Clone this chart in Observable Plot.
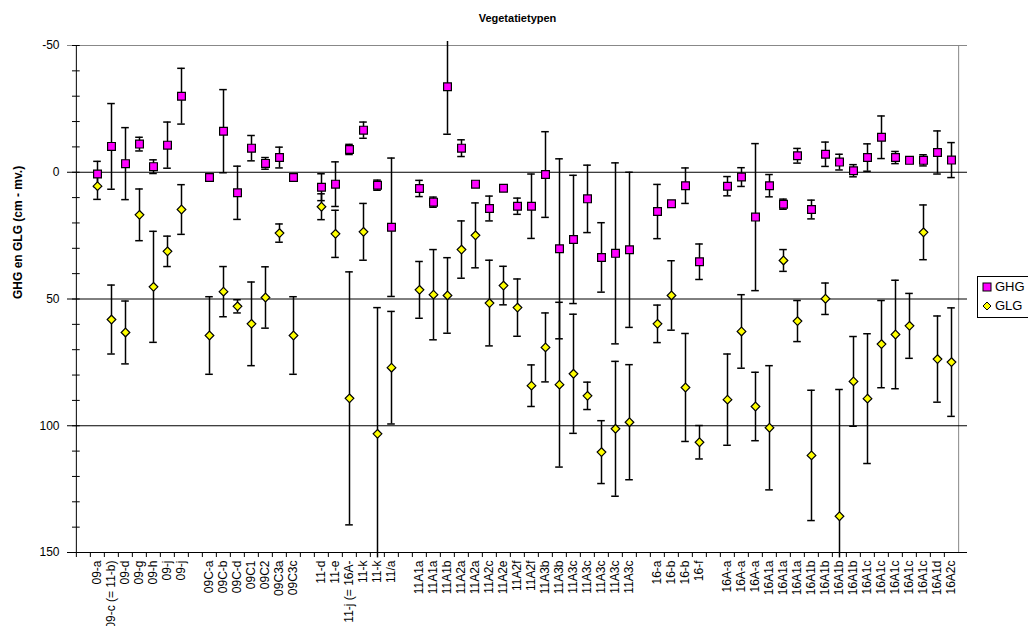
<!DOCTYPE html>
<html>
<head>
<meta charset="utf-8">
<script src="https://cdn.jsdelivr.net/npm/d3@7"></script>
<script src="https://cdn.jsdelivr.net/npm/@observablehq/plot@0.6"></script>
<style>
  html, body { margin: 0; padding: 0; background: #fff; overflow: hidden; }
  #wrap { position: relative; width: 1028px; height: 626px; font-family: "Liberation Sans", Arial, sans-serif; }
  #legend { position: absolute; left: 977px; top: 276px; width: 70px; height: 40px; border: 1px solid #000; background: #fff; font-size: 13px; }
  #legend .row { position: absolute; left: 4px; display: flex; align-items: center; gap: 3px; }
</style>
</head>
<body>
<div id="wrap">
  <div id="chart"></div>
  <div id="legend">
    <div class="row" style="top:2px"><svg width="10" height="10"><rect x="1" y="1" width="8" height="8" fill="#FF00FF" stroke="#000"/></svg><span>GHG</span></div>
    <div class="row" style="top:21px"><svg width="10" height="10"><path d="M5,1L9,5L5,9L1,5Z" fill="#FFFF00" stroke="#000"/></svg><span>GLG</span></div>
  </div>
</div>
<script>
// Vegetation types (category order, blanks separate the groups)
const labels = [
  "", "09-a", "09-c (= 11-b)", "09-d", "09-g", "09-h", "09-j", "09-j",
  "", "09C-a", "09C-b", "09C-d", "09C1", "09C2", "09C3a", "09C3c",
  "", "11-d", "11-e", "11-j (= 16A-", "11-k", "11-k", "11/a",
  "", "11A1a", "11A1a", "11A1b", "11A2a", "11A2a", "11A2c", "11A2e", "11A2f", "11A2f",
  "11A3b", "11A3b", "11A3c", "11A3c", "11A3c", "11A3c", "11A3c",
  "", "16-a", "16-b", "16-b", "16-f",
  "", "16A-a", "16A-a", "16A-a", "16A1a", "16A1a", "16A1a", "16A1b", "16A1b", "16A1b", "16A1b",
  "16A1c", "16A1c", "16A1c", "16A1c", "16A1c", "16A1d", "16A2c"
];

// GHG: mean highest groundwater level (cm below surface) and its spread
const ghg = [
  null, 0.7, -10.2, -3.4, -11.1, -2.2, -10.7, -30.0,
  null, 2.1, -16.2, 8.1, -9.5, -3.5, -5.8, 2.1,
  null, 5.9, 4.7, -9.0, -16.6, 5.1, 21.7,
  null, 6.4, 11.8, -33.7, -9.5, 4.7, 14.3, 6.3, 13.4, 13.4,
  0.9, 30.2, 26.5, 10.5, 33.6, 32.0, 30.6,
  null, 15.5, 12.4, 5.3, 35.3,
  null, 5.5, 1.9, 17.7, 5.3, 12.6, -6.5, 14.7, -7.1, -4.0, -0.6,
  -5.8, -13.8, -5.8, -4.7, -4.7, -7.8, -4.8
];
const ghgSd = [
  null, 5.0, 16.9, 14.2, 2.7, 2.7, 9.1, 11.0,
  null, 0, 16.4, 10.5, 5.0, 2.3, 4.1, 0,
  null, 5.3, 8.8, 2.0, 3.2, 2.0, 27.3,
  null, 3.2, 2.0, 18.7, 3.3, 0, 4.9, 0, 3.2, 12.7,
  16.9, 35.5, 25.3, 13.3, 13.7, 35.7, 30.6,
  null, 10.7, 0, 7.0, 7.0,
  null, 3.8, 3.7, 29.0, 4.4, 2.0, 2.9, 3.7, 4.8, 3.1, 2.4,
  5.4, 8.4, 2.4, 0, 2.2, 8.5, 6.9
];

// GLG: mean lowest groundwater level (cm below surface) and its spread
const glg = [
  null, 5.5, 58.1, 63.2, 16.8, 45.2, 31.2, 14.7,
  null, 64.4, 47.1, 52.9, 59.8, 49.4, 24.0, 64.4,
  null, 13.6, 24.3, 89.2, 23.5, 103.2, 77.1,
  null, 46.4, 48.3, 48.6, 30.5, 24.9, 51.6, 44.7, 53.4, 84.2,
  69.1, 83.8, 79.5, 88.2, 110.4, 101.2, 98.6,
  null, 59.8, 48.6, 84.9, 106.5,
  null, 89.7, 62.8, 92.4, 100.8, 34.8, 58.7, 111.7, 49.9, 135.7, 82.5,
  89.3, 67.8, 64.0, 60.6, 23.7, 73.7, 74.9
];
const glgSd = [
  null, 5.2, 13.6, 12.4, 10.2, 21.9, 6.0, 9.8,
  null, 15.3, 9.9, 2.6, 16.5, 12.1, 3.6, 15.3,
  null, 5.1, 9.3, 49.9, 11.2, 49.8, 22.2,
  null, 11.2, 17.8, 14.9, 11.3, 12.8, 16.9, 7.6, 11.3, 8.2,
  13.6, 32.5, 23.5, 5.4, 12.4, 26.6, 22.7,
  null, 7.4, 13.7, 21.3, 6.6,
  null, 18.0, 14.5, 13.5, 24.5, 4.3, 8.1, 25.7, 6.2, 50.0, 17.7,
  25.6, 17.2, 21.4, 12.8, 10.8, 17.0, 21.4
];

const yMajor = [-50, 0, 50, 100, 150];
const yMinor = d3.range(-50, 151, 10);
const gridLines = [0, 50, 100];

const n = labels.length;
const idx = d3.range(n);
const W = 1028, H = 626, mL = 67, mR = 61, mT = 45, mB = 74;
const bw = (W - mL - mR) / n;
const unitsPerPx = 200 / (H - mT - mB);

// error bars are cut off just past the plot area, like the axis ticks
const CUT_LO = -50 - 4 * unitsPerPx, CUT_HI = 150 + 5.4 * unitsPerPx;

function series(values, sds) {
  return idx.filter(i => values[i] != null).map(i => {
    const v = values[i], sd = sds[i] || 0;
    const a = v - sd, b = v + sd;
    return {i, v, sd, lo: Math.max(a, CUT_LO), hi: Math.min(b, CUT_HI), capLo: a >= CUT_LO, capHi: b <= CUT_HI};
  });
}
const ghgRows = series(ghg, ghgSd);
const glgRows = series(glg, glgSd);
const bars = [...ghgRows, ...glgRows].filter(d => d.sd > 0);
const caps = bars.flatMap(d => [
  ...(d.capLo ? [{i: d.i, y: d.lo}] : []),
  ...(d.capHi ? [{i: d.i, y: d.hi}] : [])
]);

const chart = Plot.plot({
  width: W, height: H,
  marginLeft: mL, marginRight: mR, marginTop: mT, marginBottom: mB,
  x: {type: "band", domain: idx, padding: 0, axis: null},
  y: {domain: [-50, 150], reverse: true, axis: null},
  style: {fontFamily: "'Liberation Sans', Arial, sans-serif", background: "white", color: "black"},
  marks: [
    // plot area border and gridlines
    Plot.ruleY([-50], {stroke: "#888", strokeWidth: 1}),
    Plot.ruleX([n - 1], {x: d => d, dx: bw / 2, stroke: "#888", strokeWidth: 1}),
    Plot.ruleY(gridLines, {stroke: "black", strokeWidth: 1}),
    Plot.ruleY([150], {stroke: "black", strokeWidth: 1}),
    Plot.ruleX([0], {x: d => d, dx: -bw / 2, stroke: "black", strokeWidth: 1}),
    // y axis: cross ticks every 10, labels every 50
    Plot.ruleY(yMinor, {y: d => d, x1: 0, x2: 0, dx: -4, insetRight: bw - 8, stroke: "black"}),
    Plot.text(yMajor, {y: d => d, text: d => String(d), frameAnchor: "left", dx: -8, textAnchor: "end", lineAnchor: "middle", fontSize: 12}),
    // x axis: ticks between categories, rotated labels
    Plot.ruleX(idx, {x: d => d, dx: -bw / 2, y1: 150, y2: 150 + 5 * unitsPerPx, stroke: "black"}),
    Plot.text(idx, {x: d => d, text: i => labels[i], frameAnchor: "bottom", dy: 8, rotate: -90, textAnchor: "end", lineAnchor: "middle", fontSize: 12}),
    // titles
    Plot.text(["Vegetatietypen"], {frameAnchor: "top", dy: -27, lineAnchor: "middle", fontWeight: "bold", fontSize: 11}),
    Plot.text(["GHG en GLG (cm - mv.)"], {frameAnchor: "left", dx: -49, rotate: -90, lineAnchor: "middle", fontWeight: "bold", fontSize: 12}),
    // error bars
    Plot.ruleX(bars, {x: "i", y1: "lo", y2: "hi", stroke: "black", strokeWidth: 1.5}),
    Plot.tickY(caps, {x: "i", y: "y", insetLeft: 3.2, insetRight: 3.2, stroke: "black", strokeWidth: 1.5}),
    // markers
    Plot.dot(ghgRows, {x: "i", y: "v", symbol: "square", r: 4.4, fill: "#FF00FF", stroke: "black", strokeWidth: 1.2}),
    Plot.dot(glgRows, {x: "i", y: "v", symbol: "diamond2", r: 3.9, fill: "#FFFF00", stroke: "black", strokeWidth: 1.2})
  ]
});
document.getElementById("chart").appendChild(chart);
</script>
</body>
</html>
